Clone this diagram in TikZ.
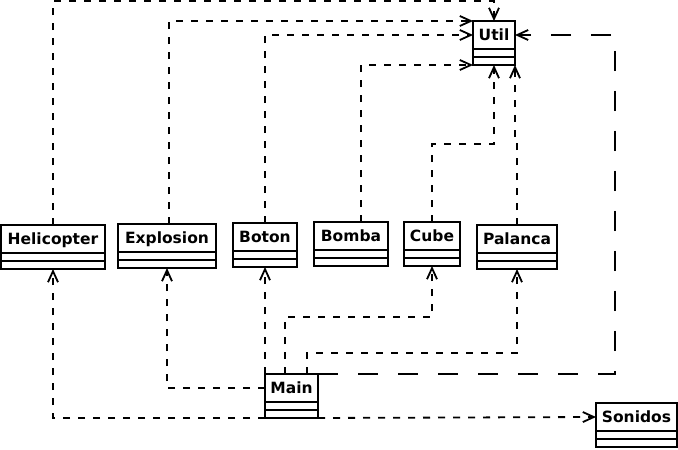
\documentclass[tikz,border=0pt]{standalone}
\usepackage{fontspec}
\newfontfamily\umlfont{DejaVu Sans}
\usetikzlibrary{arrows.meta}

\begin{document}
\begin{tikzpicture}[x=1pt,y=-1pt,
  classname/.style={draw,line width=2pt,outer sep=0pt,anchor=north west,inner sep=0pt,
    minimum height=28pt,text height=11pt,text depth=0pt,
    font=\umlfont\bfseries\fontsize{15.5}{18}\selectfont},
  classpart/.style={draw,line width=2pt,outer sep=0pt,anchor=north,inner sep=0pt,minimum height=8pt},
  dep/.style={line width=1.8pt,dash pattern=on 7pt off 8pt,-{Straight Barb[length=11pt,width=10pt]}},
  longdep/.style={dep,dash pattern=on 20pt off 20pt}]
\useasboundingbox (0,0) rectangle (678,450);

% clases
\foreach \n/\x/\y/\w/\t in {heli/1/225/104/Helicopter, expl/118/224/98/Explosion,
    boton/233/223/64/Boton, bomba/314/222/74/Bomba, cube/404/222/56/Cube,
    pal/477/225/80/Palanca, util/473/21/42/Util, main/265/374/53/Main,
    son/596/403/81/Sonidos}{
  \node[classname,minimum width=\w pt] (\n) at (\x,\y) {\t};
  \node[classpart,minimum width=\w pt] (\n-a) at (\n.south) {};
  \node[classpart,minimum width=\w pt] (\n-b) at (\n-a.south) {};
}

% dependencias hacia Util
\draw[dep] (heli.north) |- ([yshift=20pt]util.north) -- (util.north);
\draw[dep] ([xshift=2pt]expl.north) |- (util.north west);
\draw[dep] (boton.north) |- (util.west);
\draw[dep] ([xshift=10pt]bomba.north) |- (util-b.south west);
\draw[dep] (cube.north) |- ([yshift=-79pt]util-b.south) -- (util-b.south);
\draw[dep] (pal.north) |- ([yshift=-79pt]util-b.south east) -- (util-b.south east);
\draw[longdep] (main.north east) -- ++(297,0) |- (util.east);

% dependencias desde Main
\draw[dep] (main-b.south west) -| (heli-b.south);
\draw[dep] (main.west) -| (expl-b.south);
\draw[dep] (main.north west) -- (main.north west |- boton-b.south);
\draw[dep] ([xshift=20pt]main.north west) -- ++(0,-57) -| (cube-b.south);
\draw[dep] ([xshift=42pt]main.north west) -- ++(0,-21) -| (pal-b.south);
\draw[dep] (main-b.south east) -- (son.west);
\end{tikzpicture}
\end{document}
